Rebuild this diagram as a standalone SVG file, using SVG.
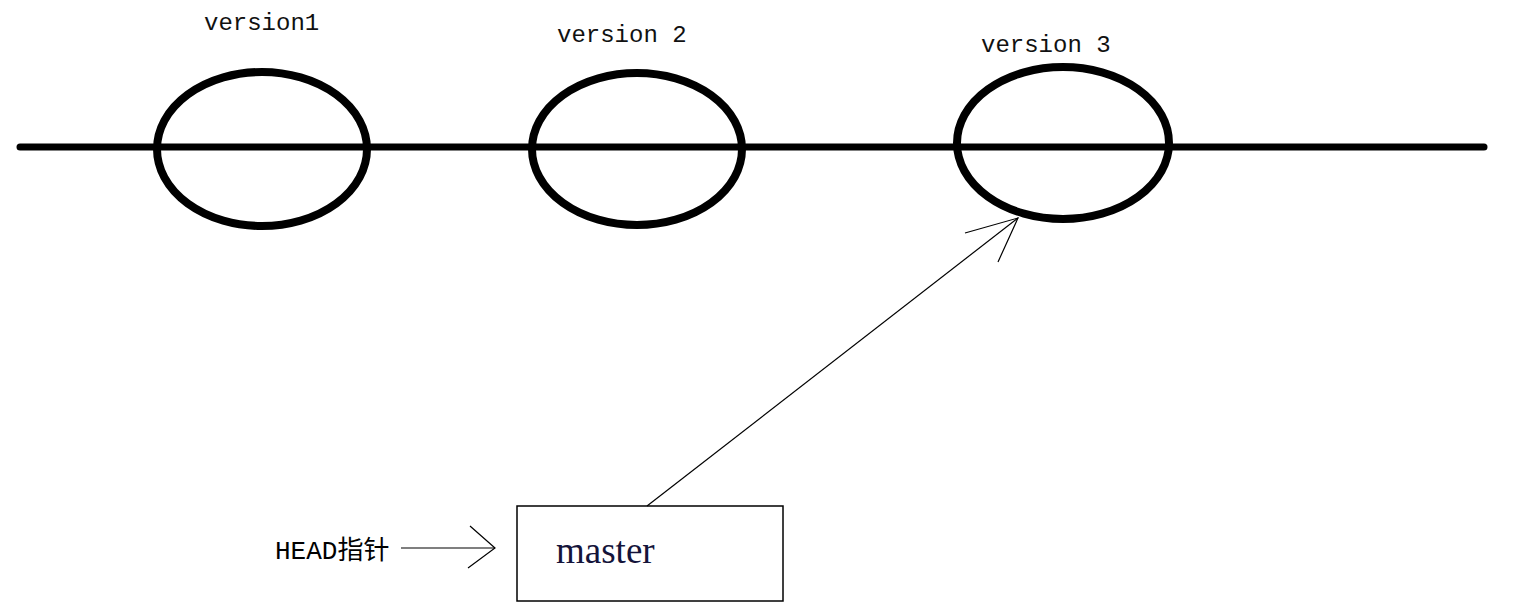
<svg xmlns="http://www.w3.org/2000/svg" width="1521" height="614" viewBox="0 0 1521 614">
<style>
.ver{fill:none;stroke:#000;stroke-width:8}
.lbl{font-family:"Liberation Mono","Noto Sans CJK SC",monospace;font-size:24px;fill:#111}
.thin{fill:none;stroke:#000;stroke-width:1.2}
.box{fill:#fff;stroke:#000;stroke-width:1.5}
</style>
<rect width="1521" height="614" fill="#fff"/>
<g id="timeline">
<line x1="20" y1="147" x2="1484" y2="147" stroke="#000" stroke-width="7" stroke-linecap="round"/>
</g>
<g id="version1">
<ellipse class="ver" cx="262" cy="149" rx="105" ry="77"/>
<text class="lbl" x="204" y="30">version1</text>
</g>
<g id="version2">
<ellipse class="ver" cx="637" cy="149" rx="105" ry="76"/>
<text class="lbl" x="557" y="42">version 2</text>
</g>
<g id="version3">
<ellipse class="ver" cx="1063" cy="143" rx="106" ry="76"/>
<text class="lbl" x="981" y="52">version 3</text>
</g>
<g id="master">
<rect class="box" x="517" y="506" width="266" height="95"/>
<text x="556" y="563" font-family="'Liberation Serif',serif" font-size="37" fill="#14143a">master</text>
</g>
<g id="head">
<text x="275" y="559" font-family="'Liberation Mono','Noto Sans CJK SC',monospace" font-size="26" fill="#000">HEAD指针</text>
</g>
<g id="connectors">
<line class="thin" x1="647" y1="506" x2="1018" y2="218"/>
<polyline class="thin" points="965,233 1018,218 998,262"/>
<line class="thin" x1="401" y1="548" x2="495" y2="548"/>
<polyline class="thin" points="470,526 495,548 468,568"/>
</g>
</svg>
